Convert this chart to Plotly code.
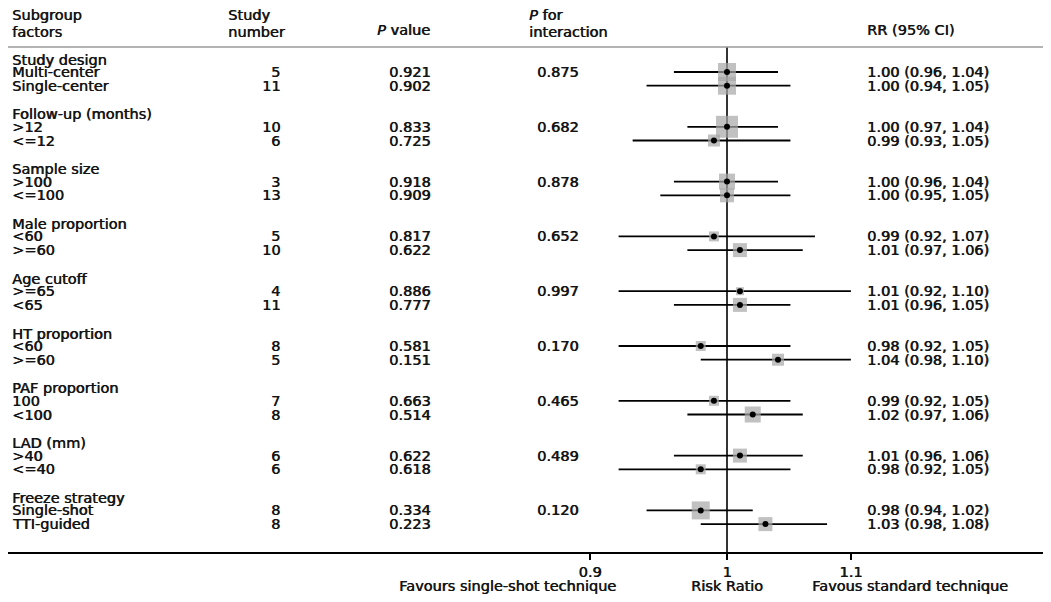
import numpy as np
import plotly.graph_objects as go

# subgroup data
groups = ["Study design", "Follow-up (months)", "Sample size", "Male proportion",
          "Age cutoff", "HT proportion", "PAF proportion", "LAD (mm)", "Freeze strategy"]
p_interaction = ["0.875", "0.682", "0.878", "0.652", "0.997", "0.170", "0.465", "0.489", "0.120"]

subgroups = ["Multi-center", "Single-center", ">12", "<=12", ">100", "<=100",
             "<60", ">=60", ">=65", "<65", "<60", ">=60", "100", "<100",
             ">40", "<=40", "Single-shot", "TTI-guided"]
study_n = [5, 11, 10, 6, 3, 13, 5, 10, 4, 11, 8, 5, 7, 8, 6, 6, 8, 8]
p_value = ["0.921", "0.902", "0.833", "0.725", "0.918", "0.909", "0.817", "0.622",
           "0.886", "0.777", "0.581", "0.151", "0.663", "0.514", "0.622", "0.618",
           "0.334", "0.223"]
rr = [1.00, 1.00, 1.00, 0.99, 1.00, 1.00, 0.99, 1.01, 1.01, 1.01,
      0.98, 1.04, 0.99, 1.02, 1.01, 0.98, 0.98, 1.03]
lo = [0.96, 0.94, 0.97, 0.93, 0.96, 0.95, 0.92, 0.97, 0.92, 0.96,
      0.92, 0.98, 0.92, 0.97, 0.96, 0.92, 0.94, 0.98]
hi = [1.04, 1.05, 1.04, 1.05, 1.04, 1.05, 1.07, 1.06, 1.10, 1.05,
      1.05, 1.10, 1.05, 1.06, 1.06, 1.05, 1.02, 1.08]
weight_px = [18, 18, 22, 12, 16, 14, 10, 14, 8, 14, 10, 12, 10, 16, 14, 10, 18, 14]

# page body has an 8px margin, so the figure is drawn 8px in from the window edge
OFF = 8
W, H = 1051 - 2 * OFF, 602 - 2 * OFF
axis_px = 552 - OFF
MB = H - axis_px
row_px, first_px = 13.7, 72.0 - OFF

# log axis: RR=1 sits at 727 px in the window, 1300 px per ln unit
k10 = 1300 * np.log(10)
xa = -(727 - OFF) / k10
xb = xa + W / k10
y_top = -first_px / row_px
y_bot = (axis_px - first_px) / row_px
head_line = (47 - OFF - first_px) / row_px

# row positions: two rows per group, group header above
item_y = []
head_y = []
for g in range(len(groups)):
    head_y.append(4 * g - 0.9)
    item_y += [4 * g, 4 * g + 1]

def px(x):
    return (x - OFF) / W

def wy(y):
    # window pixel -> row units
    return (y - OFF - first_px) / row_px

# slight horizontal shadow thickens the strokes a little (source text is heavy)
font = dict(family="DejaVu Sans, Arial", size=14.5, color="#141414",
            shadow="0.6px 0px 0px #141414")

fig = go.Figure()

# reference line at RR = 1
fig.add_trace(go.Scatter(x=[1, 1], y=[head_line, y_bot], mode="lines",
                         line=dict(color="black", width=1.6), hoverinfo="skip", showlegend=False))

# confidence intervals
cx, cy = [], []
for l, h, y in zip(lo, hi, item_y):
    cx += [l, h, None]
    cy += [y, y, None]
fig.add_trace(go.Scatter(x=cx, y=cy, mode="lines", line=dict(color="black", width=1.8),
                         hoverinfo="skip", showlegend=False))

# weighted squares + point estimates
fig.add_trace(go.Scatter(x=rr, y=item_y, mode="markers",
                         marker=dict(symbol="square", size=weight_px, color="#a6a6a6",
                                     line=dict(width=0)),
                         hoverinfo="skip", showlegend=False))
fig.add_trace(go.Scatter(x=rr, y=item_y, mode="markers",
                         marker=dict(symbol="circle", size=6, color="black"),
                         showlegend=False))

ann = []
def txt(x, y, s, anchor="left", yref="y"):
    ann.append(dict(x=px(x), y=y, xref="paper", yref=yref, text=s, showarrow=False,
                    xanchor=anchor, yanchor="middle", font=font))

# header
txt(10, wy(15), "Subgroup")
txt(10, wy(32), "factors")
txt(226, wy(15), "Study")
txt(226, wy(32), "number")
txt(375, wy(30), "<i>P</i> value")
txt(527, wy(15), "<i>P</i> for")
txt(527, wy(32), "interaction")
txt(865, wy(30), "RR (95% CI)")

for g, name in enumerate(groups):
    txt(10, head_y[g], name)
    txt(535, item_y[2 * g], p_interaction[g])

for i, s in enumerate(subgroups):
    txt(10, item_y[i], s)
    txt(282, item_y[i], str(study_n[i]), anchor="right")
    txt(387, item_y[i], p_value[i])
    txt(865, item_y[i], f"{rr[i]:.2f} ({lo[i]:.2f}, {hi[i]:.2f})")

# bottom captions
by = -(586 - 552) / (axis_px)
txt(507, by, "Favours single-shot technique", anchor="center", yref="paper")
txt(727, by, "Risk Ratio", anchor="center", yref="paper")
txt(910, by, "Favous standard technique", anchor="center", yref="paper")

fig.update_layout(
    width=W, height=H,
    margin=dict(l=0, r=0, t=0, b=MB),
    paper_bgcolor="white", plot_bgcolor="white",
    annotations=ann,
    shapes=[dict(type="line", xref="paper", yref="y", x0=0, x1=1, y0=head_line, y1=head_line,
                 line=dict(color="#9a9a9a", width=1.6))],
    xaxis=dict(type="log", range=[xa, xb], tickvals=[0.9, 1, 1.1], ticktext=["0.9", "1", "1.1"],
               ticks="outside", ticklen=6, tickwidth=1.6, tickcolor="black",
               showline=True, linecolor="black", linewidth=1.6, showgrid=False, zeroline=False,
               tickfont=font),
    yaxis=dict(range=[y_bot, y_top], visible=False, showgrid=False, zeroline=False),
)

fig.write_html("out.html")
